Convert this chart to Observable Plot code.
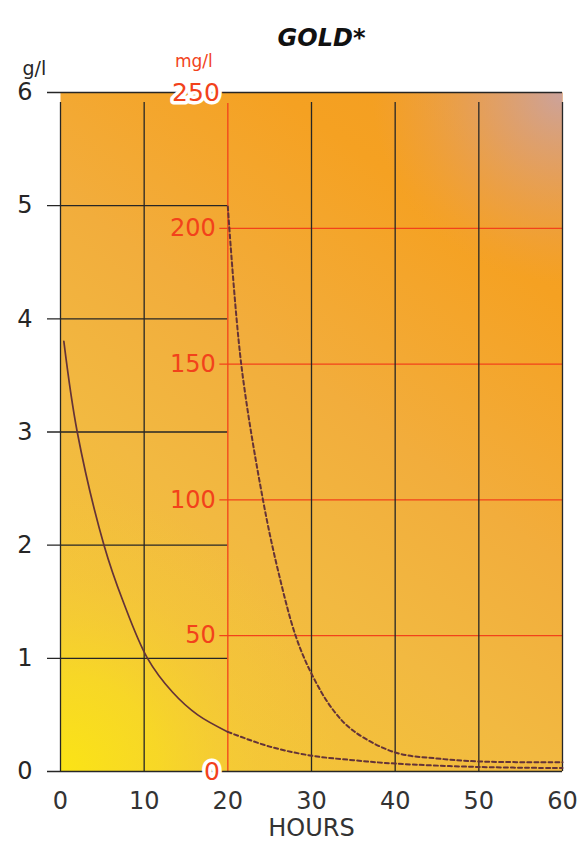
<!DOCTYPE html>
<html><head><meta charset="utf-8">
<script src="https://cdn.jsdelivr.net/npm/d3@7"></script>
<script src="https://cdn.jsdelivr.net/npm/@observablehq/plot@0.6"></script>
<style>body{margin:0;background:#fff;} svg{display:block}</style>
</head><body><div id="chart"></div>
<script>
// ---- data ----
const hours = [0, 10, 20, 30, 40, 50, 60];
const glTicks = [0, 1, 2, 3, 4, 5, 6];
const mglTicks = [0, 50, 100, 150, 200, 250];

// gold in g/l (solid up to 20 h, then dashed)
const glHours = [0.4, 2, 5.2, 7.5, 10.4, 13.4, 16.4, 20];
const glValues = [3.8, 3.0, 2.0, 1.5, 1.0, 0.7, 0.5, 0.35];
const glTailHours = [20, 25, 30, 35, 40, 50, 60];
const glTailValues = [0.35, 0.22, 0.14, 0.1, 0.07, 0.04, 0.03];

// gold in mg/l (dashed, right-hand red scale)
const mglHours = [20, 21.6, 24.2, 26, 28.1, 30, 32.5, 35, 40, 45, 50, 60];
const mglValues = [208, 150, 100, 74, 50, 36, 23, 15, 7, 4.8, 3.7, 3.4];

const k = 6 / 250; // mg/l -> g/l position on the shared y scale
const red = "#f2421b";
const ink = "#262626";
const font = "'DejaVu Sans', sans-serif";

const glData = glHours.map((t, i) => ({t, v: glValues[i]}));
const glTail = glTailHours.map((t, i) => ({t, v: glTailValues[i]}));
const mglData = mglHours.map((t, i) => ({t, v: mglValues[i] * k}));

const chart = Plot.plot({
  width: 579, height: 850,
  marginLeft: 60, marginRight: 17, marginTop: 92, marginBottom: 79,
  x: {domain: [0, 60], axis: null},
  y: {domain: [0, 6], axis: null},
  style: {fontFamily: font, background: "white", overflow: "visible"},
  marks: [
    Plot.frame({fill: "url(#bgBase)"}),
    Plot.frame({fill: "url(#bgYellow)"}),
    Plot.frame({fill: "url(#bgPink)"}),
    // black g/l grid (left panel)
    Plot.ruleY(glTicks.filter(d => d > 0 && d < 6), {x1: 0, x2: 20, stroke: ink, strokeWidth: 1.3, insetLeft: -13}),
    // red mg/l grid (right panel)
    Plot.ruleY(mglTicks.filter(d => d > 0 && d < 250), {y: d => d * k, x1: 20, x2: 60, stroke: red, strokeWidth: 1.2, insetLeft: -8}),
    // verticals
    Plot.ruleX(hours.filter(d => d !== 20), {y1: 0, y2: 6, stroke: ink, strokeWidth: 1.3, insetBottom: -10}),
    Plot.ruleX([20], {y1: 0, y2: 6, stroke: red, strokeWidth: 1.3, insetBottom: -11}),
    // top and bottom borders
    Plot.ruleY([0, 6], {x1: 0, x2: 60, stroke: ink, strokeWidth: 1.3, insetLeft: -13}),
    // curves
    Plot.line(glData, {x: "t", y: "v", stroke: "#643338", strokeWidth: 1.7, curve: "catmull-rom"}),
    Plot.line(glTail, {x: "t", y: "v", stroke: "#643338", strokeWidth: 2, strokeDasharray: "4,3", curve: "catmull-rom"}),
    Plot.line(mglData, {x: "t", y: "v", stroke: "#643338", strokeWidth: 2, strokeDasharray: "4,3", curve: "catmull-rom"}),
    // left g/l labels
    Plot.text(glTicks, {x: 0, y: d => d, text: d => String(d), textAnchor: "end", dx: -28, fontSize: 24, fill: ink}),
    // x labels
    Plot.text(hours, {x: d => d, y: 0, text: d => String(d), dy: 30, fontSize: 24, fill: "#333"}),
    // red mg/l labels
    Plot.text(mglTicks.filter(d => d > 0 && d < 250), {x: 20, y: d => d * k, text: d => String(d), textAnchor: "end", dx: -12, fontSize: 24, fill: red}),
    Plot.text([0, 250], {x: 20, y: d => d * k, text: d => String(d), textAnchor: "end", dx: -8, fontSize: 25, fill: red, stroke: "white", strokeWidth: 7, paintOrder: "stroke"}),
    // unit labels
    Plot.text(["g/l"], {frameAnchor: "top-left", text: d => d, dx: -38, dy: -31, fontSize: 19, fill: ink}),
    Plot.text(["mg/l"], {x: 20, y: 6, text: d => d, dx: -34, dy: -31, fontSize: 17, fill: red}),
    Plot.text(["HOURS"], {frameAnchor: "bottom", text: d => d, dy: 64, fontSize: 24, fill: "#333"}),
    Plot.text(["GOLD*"], {frameAnchor: "top", text: d => d, dx: 10, dy: -64, fontSize: 24, fontWeight: "bold", fontStyle: "italic", fill: "#111"})
  ]
});

// gradients
const xs = chart.scale("x"), ys = chart.scale("y");
const x0 = xs.apply(0), x1 = xs.apply(60), y0 = ys.apply(0), y1 = ys.apply(6);
const svg = d3.select(chart);
const defs = svg.insert("defs", ":first-child");
const base = defs.append("linearGradient").attr("id", "bgBase").attr("gradientUnits", "userSpaceOnUse")
  .attr("x1", x0).attr("y1", y0).attr("x2", x1).attr("y2", y1);
[[0, "#f5cd30"], [0.35, "#f2b941"], [0.55, "#f2ad3c"], [0.8, "#f5a122"], [1, "#f29c22"]]
  .forEach(([o, c]) => base.append("stop").attr("offset", o).attr("stop-color", c));
const yel = defs.append("radialGradient").attr("id", "bgYellow").attr("gradientUnits", "userSpaceOnUse")
  .attr("cx", x0).attr("cy", y0).attr("r", 280);
[[0, "#fbe415", 1], [0.35, "#f8dc22", 0.75], [0.7, "#f5cc38", 0.3], [1, "#f5cc38", 0]]
  .forEach(([o, c, a]) => yel.append("stop").attr("offset", o).attr("stop-color", c).attr("stop-opacity", a));
const pink = defs.append("radialGradient").attr("id", "bgPink").attr("gradientUnits", "userSpaceOnUse")
  .attr("cx", x1).attr("cy", y1).attr("r", 190);
[[0, "#c9a3a3", 0.95], [0.4, "#d8a088", 0.6], [1, "#e8a060", 0]]
  .forEach(([o, c, a]) => pink.append("stop").attr("offset", o).attr("stop-color", c).attr("stop-opacity", a));

document.getElementById("chart").appendChild(chart);
</script>
</body></html>
